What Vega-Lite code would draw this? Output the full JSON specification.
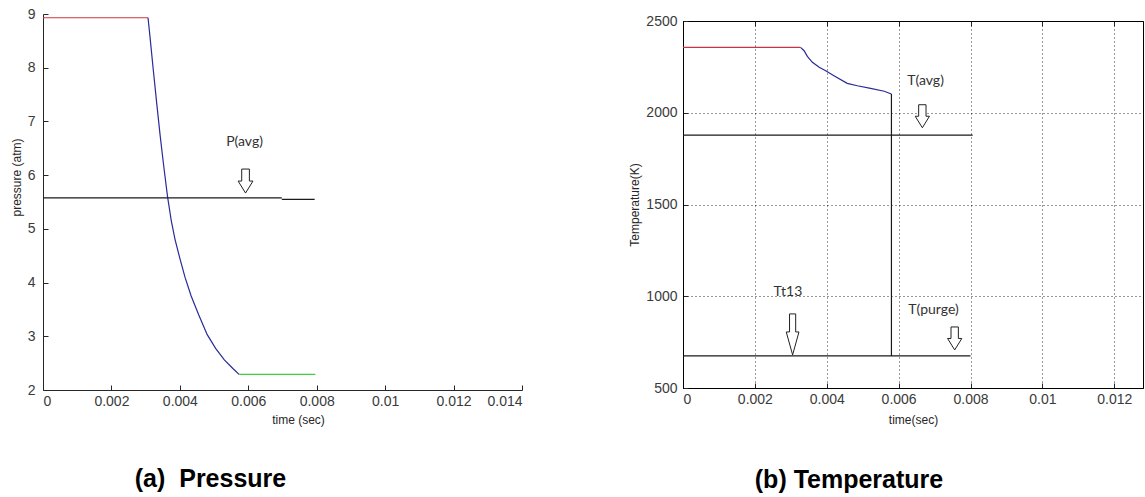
{
  "$schema": "https://vega.github.io/schema/vega-lite/v6.json",
  "background": "white",
  "padding": {"left": 10, "top": 7, "right": 0, "bottom": 0},
  "spacing": 161,
  "bounds": "flush",
  "datasets": {
    "pressure": [
      {"seg": "red", "s": "red", "t": 0, "v": 8.93},
      {"seg": "red", "s": "red", "t": 0.00307, "v": 8.93},
      {"seg": "blue", "s": "blue", "t": 0.00307, "v": 8.93},
      {"seg": "blue", "s": "blue", "t": 0.00312, "v": 8.62},
      {"seg": "blue", "s": "blue", "t": 0.00322, "v": 7.98},
      {"seg": "blue", "s": "blue", "t": 0.00332, "v": 7.36},
      {"seg": "blue", "s": "blue", "t": 0.00342, "v": 6.76},
      {"seg": "blue", "s": "blue", "t": 0.00353, "v": 6.16},
      {"seg": "blue", "s": "blue", "t": 0.00364, "v": 5.6},
      {"seg": "blue", "s": "blue", "t": 0.00375, "v": 5.15},
      {"seg": "blue", "s": "blue", "t": 0.00386, "v": 4.8},
      {"seg": "blue", "s": "blue", "t": 0.004, "v": 4.45},
      {"seg": "blue", "s": "blue", "t": 0.00415, "v": 4.1},
      {"seg": "blue", "s": "blue", "t": 0.00433, "v": 3.75},
      {"seg": "blue", "s": "blue", "t": 0.00455, "v": 3.4},
      {"seg": "blue", "s": "blue", "t": 0.0048, "v": 3.03},
      {"seg": "blue", "s": "blue", "t": 0.00505, "v": 2.77},
      {"seg": "blue", "s": "blue", "t": 0.0053, "v": 2.56},
      {"seg": "blue", "s": "blue", "t": 0.00555, "v": 2.4},
      {"seg": "blue", "s": "blue", "t": 0.00573, "v": 2.29},
      {"seg": "green", "s": "green", "t": 0.00573, "v": 2.29},
      {"seg": "green", "s": "green", "t": 0.00796, "v": 2.29},
      {"seg": "avg1", "s": "black", "t": 0, "v": 5.575},
      {"seg": "avg1", "s": "black", "t": 0.00698, "v": 5.575},
      {"seg": "avg2", "s": "black", "t": 0.00698, "v": 5.55},
      {"seg": "avg2", "s": "black", "t": 0.00794, "v": 5.55}
    ],
    "plabels": [
      {"label": "P(avg)", "t": 0.00589, "v": 6.61}
    ],
    "parrows": [
      {"t": 0.00592, "v": 5.89}
    ],
    "temp": [
      {"seg": "red", "s": "red", "t": 0, "v": 2356},
      {"seg": "red", "s": "red", "t": 0.00327, "v": 2356},
      {"seg": "blue", "s": "blue", "t": 0.00327, "v": 2356},
      {"seg": "blue", "s": "blue", "t": 0.00337, "v": 2338},
      {"seg": "blue", "s": "blue", "t": 0.00346, "v": 2307},
      {"seg": "blue", "s": "blue", "t": 0.0036, "v": 2275},
      {"seg": "blue", "s": "blue", "t": 0.00379, "v": 2248},
      {"seg": "blue", "s": "blue", "t": 0.00397, "v": 2229},
      {"seg": "blue", "s": "blue", "t": 0.0042, "v": 2202},
      {"seg": "blue", "s": "blue", "t": 0.00457, "v": 2160},
      {"seg": "blue", "s": "blue", "t": 0.00485, "v": 2147},
      {"seg": "blue", "s": "blue", "t": 0.00522, "v": 2133},
      {"seg": "blue", "s": "blue", "t": 0.0056, "v": 2117},
      {"seg": "blue", "s": "blue", "t": 0.0058, "v": 2102},
      {"seg": "drop", "s": "black", "t": 0.0058, "v": 2102},
      {"seg": "drop", "s": "black", "t": 0.0058, "v": 675},
      {"seg": "avg", "s": "black", "t": 0, "v": 1878},
      {"seg": "avg", "s": "black", "t": 0.00806, "v": 1878},
      {"seg": "purge", "s": "black", "t": 0, "v": 675},
      {"seg": "purge", "s": "black", "t": 0.008, "v": 675}
    ],
    "tlabels": [
      {"label": "T(avg)", "t": 0.00675, "v": 2175},
      {"label": "Tt13", "t": 0.00292, "v": 1021},
      {"label": "T(purge)", "t": 0.00697, "v": 925}
    ],
    "tarrows": [
      {"t": 0.00666, "v": 1981},
      {"t": 0.00756, "v": 770}
    ],
    "tallarrow": [
      {"t": 0.00305, "v": 792}
    ],
    "empty": []
  },
  "config": {
    "view": {"stroke": null},
    "axis": {
      "labelFont": "Liberation Sans",
      "labelFontSize": 14,
      "labelColor": "#3a3a3a",
      "domainColor": "#262626",
      "tickColor": "#262626",
      "tickSize": -5,
      "labelPadding": 9,
      "titleFont": "Liberation Sans",
      "titleFontWeight": "normal",
      "titleColor": "#262626",
      "titleFontSize": 12,
      "grid": false
    },
    "title": {
      "font": "Liberation Sans",
      "fontSize": 25,
      "fontWeight": "bold",
      "color": "#000000",
      "orient": "bottom",
      "anchor": "middle",
      "frame": "group"
    },
    "text": {"font": "Lato", "fontSize": 14, "color": "#333333"}
  },
  "hconcat": [
    {
      "width": 479,
      "height": 376,
      "title": {"text": "(a)\u00a0 Pressure", "dx": -72, "offset": 42},
      "resolve": {"axis": {"x": "independent", "y": "independent"}},
      "layer": [
        {
          "data": {"name": "pressure"},
          "mark": {"type": "line", "strokeWidth": 1.2},
          "encoding": {
            "x": {
              "field": "t", "type": "quantitative",
              "scale": {"domain": [0, 0.014], "nice": false},
              "axis": {"orient": "bottom", "values": [0, 0.002, 0.004, 0.006, 0.008, 0.01, 0.012, 0.014], "format": "~g", "title": "time (sec)", "titleX": 255, "titlePadding": 6}
            },
            "y": {
              "field": "v", "type": "quantitative",
              "scale": {"domain": [2, 9], "nice": false, "zero": false},
              "axis": {"orient": "left", "values": [2, 3, 4, 5, 6, 7, 8, 9], "title": "pressure  (atm)", "titleY": 163, "labelPadding": 13}
            },
            "color": {
              "field": "s", "type": "nominal",
              "scale": {"domain": ["red", "blue", "green", "black"], "range": ["#cc3340", "#2a2a9a", "#3fcf3f", "#1a1a1a"]},
              "legend": null
            },
            "detail": {"field": "seg"}
          }
        },
        {
          "data": {"name": "plabels"},
          "mark": {"type": "text", "baseline": "middle", "align": "center"},
          "encoding": {
            "x": {"field": "t", "type": "quantitative", "axis": null},
            "y": {"field": "v", "type": "quantitative", "axis": null},
            "text": {"field": "label"}
          }
        },
        {
          "data": {"name": "parrows"},
          "mark": {"type": "point", "shape": "M-0.32,-1L0.32,-1L0.32,0L0.62,0L0,1L-0.62,0L-0.32,0Z", "size": 576, "filled": true, "fill": "white", "stroke": "#222222", "strokeWidth": 1, "opacity": 1},
          "encoding": {
            "x": {"field": "t", "type": "quantitative", "axis": null},
            "y": {"field": "v", "type": "quantitative", "axis": null}
          }
        }
      ]
    },
    {
      "spacing": 0,
      "bounds": "flush",
      "vconcat": [
        {
          "width": 460,
          "height": 7,
          "data": {"name": "empty"},
          "mark": {"type": "point"},
          "encoding": {}
        },
        {
          "width": 460,
          "height": 367,
          "view": {"stroke": "#000000", "strokeWidth": 1},
          "title": {"text": "(b) Temperature", "dx": -64, "offset": 43},
          "resolve": {"axis": {"x": "independent", "y": "independent"}},
          "layer": [
            {
              "data": {"name": "temp"},
              "mark": {"type": "line", "strokeWidth": 1.2},
              "encoding": {
                "x": {
                  "field": "t", "type": "quantitative",
                  "scale": {"domain": [0, 0.0128], "nice": false},
                  "axis": {"orient": "bottom", "values": [0, 0.002, 0.004, 0.006, 0.008, 0.01, 0.012], "format": "~g", "title": "time(sec)", "titlePadding": 8, "grid": true, "gridDash": [1, 3], "gridColor": "#000000", "gridOpacity": 0.8, "domainColor": "#000000"}
                },
                "y": {
                  "field": "v", "type": "quantitative",
                  "scale": {"domain": [500, 2500], "nice": false, "zero": false},
                  "axis": {"orient": "left", "values": [500, 1000, 1500, 2000, 2500], "format": "d", "title": "Temperature(K)", "labelPadding": 11, "grid": true, "gridDash": [1, 3], "gridColor": "#000000", "gridOpacity": 0.8, "domainColor": "#000000"}
                },
                "color": {
                  "field": "s", "type": "nominal",
                  "scale": {"domain": ["red", "blue", "green", "black"], "range": ["#cc3340", "#2a2a9a", "#3fcf3f", "#1a1a1a"]},
                  "legend": null
                },
                "detail": {"field": "seg"}
              }
            },
            {
              "data": {"name": "tlabels"},
              "mark": {"type": "text", "baseline": "middle", "align": "center"},
              "encoding": {
                "x": {"field": "t", "type": "quantitative", "axis": null},
                "y": {"field": "v", "type": "quantitative", "axis": null},
                "text": {"field": "label"}
              }
            },
            {
              "data": {"name": "tarrows"},
              "mark": {"type": "point", "shape": "M-0.32,-1L0.32,-1L0.32,0L0.62,0L0,1L-0.62,0L-0.32,0Z", "size": 529, "filled": true, "fill": "white", "stroke": "#222222", "strokeWidth": 1, "opacity": 1},
              "encoding": {
                "x": {"field": "t", "type": "quantitative", "axis": {"orient": "top", "labels": false, "title": null, "grid": false, "domain": true, "domainColor": "#000000", "ticks": true, "values": [0.002, 0.004, 0.006, 0.008, 0.01, 0.012]}},
                "y": {"field": "v", "type": "quantitative", "axis": null}
              }
            },
            {
              "data": {"name": "tallarrow"},
              "mark": {"type": "point", "shape": "M-0.15,-1L0.15,-1L0.15,-0.12L0.31,-0.12L0,1L-0.31,-0.12L-0.15,-0.12Z", "size": 1681, "filled": true, "fill": "white", "stroke": "#222222", "strokeWidth": 1, "opacity": 1},
              "encoding": {
                "x": {"field": "t", "type": "quantitative", "axis": null},
                "y": {"field": "v", "type": "quantitative", "axis": null}
              }
            }
          ]
        }
      ]
    }
  ]
}
